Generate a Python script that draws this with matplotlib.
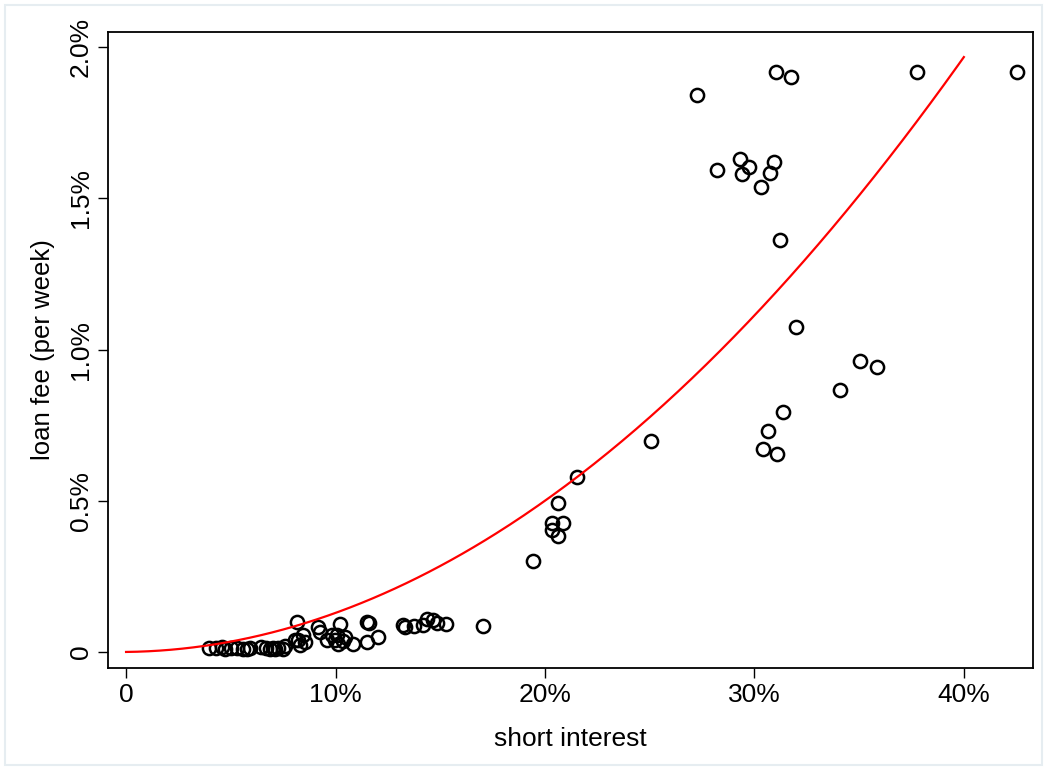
#!/usr/bin/env python
# -*- coding: utf-8 -*-

"""
Loan fee against short interest, scatter with fitted curve.
"""

# Third party modules.
import numpy as np
import matplotlib
matplotlib.use("Agg")
import matplotlib.pyplot as plt
from matplotlib.patches import Rectangle
from matplotlib.ticker import FuncFormatter

# Globals and constants variables.
# short interest (%) and loan fee per week (%)
short_interest = [
    3.96, 4.30, 4.58, 4.73, 5.01, 5.30, 5.58, 5.78, 5.92, 6.44, 6.68, 6.87,
    7.02, 7.11, 7.26, 7.49, 7.59,
    8.16, 8.07, 8.21, 8.45, 8.54, 8.31, 9.16, 9.26, 9.59, 9.83, 9.98, 10.12,
    10.21, 10.07, 10.45, 10.36, 10.84, 11.50, 11.60, 11.50, 12.03,
    13.22, 13.32, 13.75, 14.18, 14.37, 14.65, 14.84, 15.27, 17.04,
    19.43, 20.33, 20.86, 20.33, 20.62, 20.62, 21.53, 25.06,
    27.26, 28.21, 29.31, 29.40, 29.74, 30.31, 30.74, 30.93, 31.03, 31.74,
    31.22, 31.98, 37.76, 42.53,
    35.04, 35.85, 34.08, 31.36, 30.64, 30.41, 31.07,
]
loan_fee = [
    0.013, 0.013, 0.017, 0.010, 0.013, 0.013, 0.010, 0.010, 0.013, 0.017, 0.013, 0.010,
    0.013, 0.010, 0.013, 0.010, 0.020,
    0.099, 0.040, 0.040, 0.056, 0.033, 0.023, 0.083, 0.066, 0.040, 0.056, 0.040, 0.026,
    0.093, 0.056, 0.050, 0.036, 0.026, 0.099, 0.096, 0.033, 0.050,
    0.089, 0.083, 0.086, 0.089, 0.109, 0.106, 0.096, 0.093, 0.086,
    0.301, 0.426, 0.426, 0.403, 0.493, 0.383, 0.579, 0.698,
    1.841, 1.593, 1.630, 1.580, 1.603, 1.537, 1.583, 1.620, 1.917, 1.901,
    1.362, 1.074, 1.917, 1.917,
    0.962, 0.942, 0.866, 0.793, 0.731, 0.671, 0.655,
]

# fitted curve: fee = FIT_A * si^2 + FIT_B * si, drawn over 0..40%
FIT_A = 0.001209
FIT_B = 0.00082
FIT_RANGE = (0.0, 40.0)

x_ticks = [0, 10, 20, 30, 40]
y_ticks = [0, 0.5, 1.0, 1.5, 2.0]


def pct_x(v, pos):
    return "0" if v == 0 else "%d%%" % v


def pct_y(v, pos):
    return "0" if v == 0 else "%.1f%%" % v


def run():
    plt.rcParams["font.family"] = ["Liberation Sans", "DejaVu Sans"]

    fig = plt.figure(figsize=(10.47, 7.7), dpi=100)
    fig.patches.append(Rectangle((0.005, 0.006), 0.99, 0.988, transform=fig.transFigure,
                                 fill=False, edgecolor="#e6edf1", linewidth=1.5))
    ax = fig.add_axes([0.1032, 0.1325, 0.8834, 0.8259])

    ax.plot(short_interest, loan_fee, linestyle="none", marker="o", markersize=9.5,
            markerfacecolor="none", markeredgecolor="black", markeredgewidth=1.8)

    fx = np.linspace(FIT_RANGE[0], FIT_RANGE[1], 300)
    ax.plot(fx, FIT_A * fx**2 + FIT_B * fx, color="red", linewidth=1.6)

    ax.set_xlim(-0.86, 43.3)
    ax.set_ylim(-0.053, 2.05)
    ax.set_xticks(x_ticks)
    ax.set_yticks(y_ticks)
    ax.xaxis.set_major_formatter(FuncFormatter(pct_x))
    ax.yaxis.set_major_formatter(FuncFormatter(pct_y))
    ax.tick_params(direction="out", length=7, width=1.0, labelsize=19, pad=4)
    for lab in ax.get_yticklabels():
        lab.set_rotation(90)
        lab.set_verticalalignment("center")
    for spine in ax.spines.values():
        spine.set_linewidth(1.3)

    ax.set_xlabel("short interest", fontsize=19, labelpad=14)
    ax.set_ylabel("loan fee (per week)", fontsize=18.5, labelpad=10)

    fig.savefig("out.png", dpi=100)


def main():
    run()


if __name__ == '__main__':  # pragma: no cover
    main()
